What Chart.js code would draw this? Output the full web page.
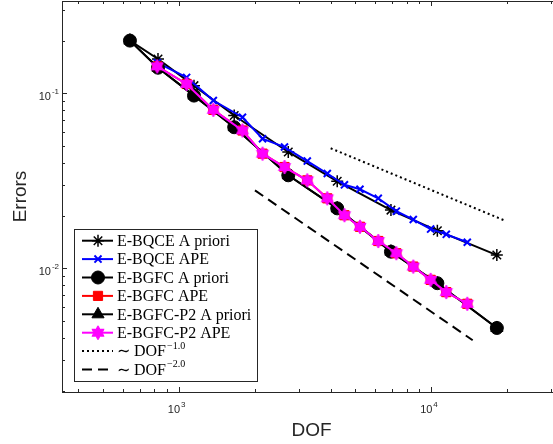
<!DOCTYPE html>
<html>
<head>
<meta charset="utf-8">
<script src="https://cdn.jsdelivr.net/npm/chart.js@4"></script>
<style>
  html, body { margin: 0; padding: 0; background: #fff; }
  #wrap { width: 553px; height: 444px; overflow: hidden; position: relative; }
  canvas { display: block; }
</style>
</head>
<body>
<div id="wrap"><canvas id="errChart" width="562" height="444"></canvas></div>
<script>
// degrees of freedom per refinement step
const aprioriDof = [641, 828, 1150, 1660, 2719, 4250, 6940, 10600, 18240];
const apeDof = [822, 1075, 1372, 1790, 2150, 2627, 3234, 3882, 4540, 5231, 6181, 7290, 8508, 9970, 11500, 13928];

// error values
const bqceApriori = [0.200, 0.157, 0.1106, 0.0747, 0.0462, 0.0314, 0.0215, 0.0164, 0.0119];
const bqceApe = [0.1496, 0.1233, 0.0909, 0.0730, 0.0550, 0.0493, 0.0410, 0.0348, 0.0300, 0.0283, 0.0251, 0.0212, 0.0190, 0.01676, 0.01563, 0.01408];
const bgfcApriori = [0.200, 0.140, 0.097, 0.064, 0.034, 0.022, 0.01245, 0.00822, 0.00456];
const bgfcApe = [0.1425, 0.1131, 0.0804, 0.0613, 0.0452, 0.0379, 0.0318, 0.0251, 0.0201, 0.01727, 0.01432, 0.01219, 0.01023, 0.00859, 0.00731, 0.00627];
const p2Apriori = [0.200, 0.140, 0.097, 0.064, 0.034, 0.022, 0.01245, 0.00822, 0.00456];
const p2Ape = [0.1425, 0.1131, 0.0804, 0.0613, 0.0452, 0.0379, 0.0318, 0.0251, 0.0201, 0.01727, 0.01432, 0.01219, 0.01023, 0.00859, 0.00731, 0.00627];

// reference slopes
const rateOneDof = [4004, 19830];
const rateOne = [0.0485, 0.01862];
const rateTwoDof = [2006, 14630];
const rateTwo = [0.0279, 0.00388];

// axis limits and decade ticks
const xLimits = [344.8, 32760];
const yLimits = [0.001964, 0.3368];
const xDecades = [3, 4];
const yDecades = [-2, -1];

const axisColor = '#262626';

// filled six-pointed star marker
function hexagram(color, r) {
  const c = document.createElement('canvas');
  const s = Math.ceil(r * 2 + 2);
  c.width = s; c.height = s;
  const g = c.getContext('2d');
  g.translate(s / 2, s / 2);
  g.beginPath();
  for (let k = 0; k < 12; k++) {
    const rad = k % 2 === 0 ? r : r / Math.sqrt(3);
    const a = -Math.PI / 2 + k * Math.PI / 6;
    g.lineTo(rad * Math.cos(a), rad * Math.sin(a));
  }
  g.closePath();
  g.fillStyle = color;
  g.fill();
  g.strokeStyle = color;
  g.lineWidth = 1;
  g.stroke();
  return c;
}

const toPoints = (xs, ys) => xs.map((x, i) => ({ x: x, y: ys[i] }));

function series(label, xs, ys, color, style, radius, fill, bw) {
  return {
    label: label,
    data: toPoints(xs, ys),
    borderColor: color,
    borderWidth: 2,
    pointStyle: style,
    pointRadius: radius,
    pointHoverRadius: radius,
    pointBackgroundColor: fill,
    pointBorderColor: color,
    pointBorderWidth: bw,
    fill: false,
    tension: 0
  };
}

const datasets = [
  series('E-BQCE A priori', aprioriDof, bqceApriori, '#000000', 'star', 6, '#000000', 1.5),
  series('E-BQCE APE', apeDof, bqceApe, '#0000ff', 'crossRot', 5, '#0000ff', 2),
  series('E-BGFC A priori', aprioriDof, bgfcApriori, '#000000', 'circle', 6.5, '#000000', 1),
  series('E-BGFC APE', apeDof, bgfcApe, '#ff0000', 'rect', 6.5, '#ff0000', 1),
  series('E-BGFC-P2 A priori', aprioriDof, p2Apriori, '#000000', 'triangle', 7, '#000000', 1),
  series('E-BGFC-P2 APE', apeDof, p2Ape, '#ff00ff', hexagram('#ff00ff', 7), 7, '#ff00ff', 1),
  Object.assign(series('\u223C DOF', rateOneDof, rateOne, '#000000', 'circle', 0, '#000000', 0),
    { borderDash: [2, 3], sup: '\u22121.0' }),
  Object.assign(series('\u223C DOF', rateTwoDof, rateTwo, '#000000', 'circle', 0, '#000000', 0),
    { borderDash: [10, 6], sup: '\u22122.0' })
];
// later datasets sit on top
datasets.forEach((ds, i) => { ds.order = datasets.length - i; });

// "10^k" label with a raised exponent
function powerLabel(ctx, k, x, y, align) {
  const base = '10', exp = String(k);
  ctx.font = '11px "Liberation Sans", Arial, sans-serif';
  const wb = ctx.measureText(base).width;
  ctx.font = '8px "Liberation Sans", Arial, sans-serif';
  const we = ctx.measureText(exp).width;
  const left = align === 'right' ? x - wb - we - 1 : x - (wb + we + 1) / 2;
  ctx.textAlign = 'left';
  ctx.textBaseline = 'alphabetic';
  ctx.font = '11px "Liberation Sans", Arial, sans-serif';
  ctx.fillText(base, left, y);
  ctx.font = '8px "Liberation Sans", Arial, sans-serif';
  ctx.fillText(exp, left + wb + 1, y - 6);
}

const axesPlugin = {
  id: 'boxAxes',
  afterDatasetsDraw(chart) {
    const { ctx, chartArea: a, scales: { x, y } } = chart;
    ctx.save();
    ctx.strokeStyle = axisColor;
    ctx.fillStyle = axisColor;
    ctx.lineWidth = 1;
    ctx.strokeRect(a.left + 0.5, a.top + 0.5, a.right - a.left, a.bottom - a.top);

    ctx.beginPath();
    for (let d = 2; d <= 4; d++) {
      for (let m = 1; m <= 9; m++) {
        const v = m * Math.pow(10, d);
        if (v < xLimits[0] || v > xLimits[1]) continue;
        const px = Math.round(x.getPixelForValue(v)) + 0.5;
        const len = m === 1 ? 5 : 3;
        ctx.moveTo(px, a.bottom); ctx.lineTo(px, a.bottom - len);
        ctx.moveTo(px, a.top); ctx.lineTo(px, a.top + len);
      }
    }
    for (let d = -3; d <= -1; d++) {
      for (let m = 1; m <= 9; m++) {
        const v = m * Math.pow(10, d);
        if (v < yLimits[0] || v > yLimits[1]) continue;
        const py = Math.round(y.getPixelForValue(v)) + 0.5;
        const len = m === 1 ? 5 : 3;
        ctx.moveTo(a.left, py); ctx.lineTo(a.left + len, py);
        ctx.moveTo(a.right, py); ctx.lineTo(a.right - len, py);
      }
    }
    ctx.stroke();

    xDecades.forEach(k => powerLabel(ctx, k, x.getPixelForValue(Math.pow(10, k)) - 2, a.bottom + 21, 'center'));
    yDecades.forEach(k => powerLabel(ctx, k, a.left - 3, y.getPixelForValue(Math.pow(10, k)) + 7, 'right'));

    ctx.font = '19px "Liberation Sans", Arial, sans-serif';
    ctx.textAlign = 'center';
    ctx.textBaseline = 'middle';
    ctx.fillText('DOF', (a.left + a.right) / 2, 431);
    ctx.translate(21, (a.top + a.bottom) / 2);
    ctx.rotate(-Math.PI / 2);
    ctx.fillText('Errors', 0, 0);
    ctx.restore();
  }
};

const legendPlugin = {
  id: 'boxLegend',
  afterDraw(chart) {
    const ctx = chart.ctx;
    ctx.save();
    ctx.fillStyle = '#ffffff';
    ctx.fillRect(74.5, 229.5, 183, 152);
    ctx.strokeStyle = axisColor;
    ctx.lineWidth = 1;
    ctx.strokeRect(74.5, 229.5, 183, 152);
    chart.data.datasets.forEach((ds, i) => {
      const yy = 240.7 + i * 18.4;
      ctx.setLineDash(ds.borderDash || []);
      ctx.strokeStyle = ds.borderColor;
      ctx.lineWidth = ds.borderWidth;
      ctx.beginPath();
      ctx.moveTo(82, yy); ctx.lineTo(113, yy);
      ctx.stroke();
      ctx.setLineDash([]);
      if (ds.pointRadius > 0) {
        ctx.fillStyle = ds.pointBackgroundColor;
        ctx.strokeStyle = ds.pointBorderColor;
        ctx.lineWidth = ds.pointBorderWidth;
        Chart.helpers.drawPoint(ctx, {
          pointStyle: ds.pointStyle, radius: ds.pointRadius,
          rotation: 0, borderWidth: ds.pointBorderWidth
        }, 98, yy);
      }
      ctx.fillStyle = '#000000';
      ctx.textAlign = 'left';
      ctx.textBaseline = 'middle';
      ctx.font = '16px "Liberation Serif", "Times New Roman", serif';
      ctx.fillText(ds.label, 117, yy + 1);
      if (ds.sup) {
        const w = ctx.measureText(ds.label).width;
        ctx.font = '10px "Liberation Serif", "Times New Roman", serif';
        ctx.fillText(ds.sup, 117 + w + 1, yy - 5);
      }
    });
    ctx.restore();
  }
};

new Chart(document.getElementById('errChart'), {
  type: 'line',
  data: { datasets: datasets },
  options: {
    responsive: false,
    animation: false,
    devicePixelRatio: 1,
    layout: { autoPadding: false, padding: { left: 62, right: 1, top: 1, bottom: 52 } },
    plugins: { legend: { display: false }, tooltip: { enabled: false } },
    scales: {
      x: { type: 'logarithmic', min: xLimits[0], max: xLimits[1], display: false },
      y: { type: 'logarithmic', min: yLimits[0], max: yLimits[1], display: false }
    }
  },
  plugins: [axesPlugin, legendPlugin]
});
</script>
</body>
</html>
